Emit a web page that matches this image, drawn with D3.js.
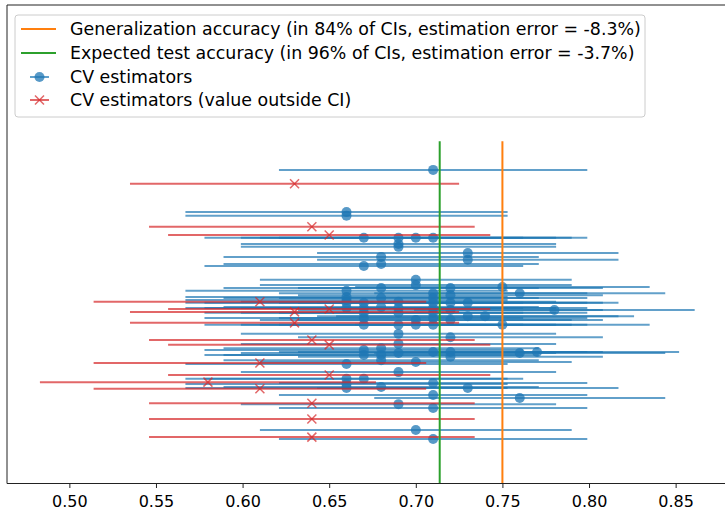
<!DOCTYPE html>
<html>
<head>
<meta charset="utf-8">
<script src="https://cdn.jsdelivr.net/npm/d3@7"></script>
<style>
  body { margin: 0; background: #fff; }
  text { font-family: "DejaVu Sans", sans-serif; }
</style>
</head>
<body>
<svg id="chart" width="725" height="510"></svg>
<script>
// CV estimates (accuracy) and their vertical row position (arbitrary units, 0..100)
const estimates = [
  0.71, 0.66, 0.66, 0.67, 0.69, 0.70, 0.71, 0.69, 0.69, 0.73,
  0.73, 0.68, 0.68, 0.67, 0.70, 0.70, 0.68, 0.66, 0.66, 0.66,
  0.75, 0.76, 0.72, 0.72, 0.71, 0.71, 0.71, 0.71, 0.67, 0.67,
  0.67, 0.67, 0.69, 0.69, 0.69, 0.68, 0.73, 0.72, 0.72, 0.73,
  0.74, 0.78, 0.70, 0.75, 0.69, 0.72, 0.69, 0.67, 0.68, 0.68,
  0.68, 0.69, 0.71, 0.72, 0.72, 0.76, 0.77, 0.66, 0.70, 0.69,
  0.66, 0.66, 0.67, 0.68, 0.71, 0.71, 0.73, 0.76, 0.69, 0.71,
  0.70, 0.71, 0.66, 0.71, 0.71, 0.72, 0.68, 0.67, 0.70, 0.69,
  0.66, 0.71, 0.67, 0.66,
  0.63, 0.64, 0.65, 0.61, 0.63, 0.65, 0.63, 0.64, 0.65, 0.61,
  0.65, 0.58, 0.61, 0.64, 0.64, 0.64
]
const rowPos = [
  65.5, 56.7, 55.9, 51.3, 51.3, 51.3, 51.3, 50.0, 49.4, 48.1,
  46.7, 47.3, 45.8, 45.4, 42.5, 41.4, 40.8, 40.2, 38.9, 36.6,
  41.0, 39.7, 40.8, 39.3, 39.7, 37.7, 35.6, 33.1, 37.7, 36.6,
  34.5, 33.1, 37.9, 36.6, 33.1, 36.8, 37.7, 36.2, 34.1, 34.9,
  34.9, 36.2, 33.1, 33.1, 31.2, 30.5, 29.1, 27.8, 28.2, 26.8,
  25.7, 27.2, 27.4, 27.4, 26.4, 27.2, 27.4, 24.9, 25.3, 23.2,
  21.8, 19.9, 21.8, 20.1, 20.9, 18.4, 19.9, 17.8, 16.5, 15.7,
  11.1, 9.2, 38.3, 38.7, 36.6, 37.7, 38.7, 35.6, 34.1, 35.6,
  37.7, 34.5, 26.8, 20.7,
  62.6, 53.6, 51.9, 37.9, 35.8, 36.4, 33.5, 29.9, 28.9, 25.1,
  22.6, 21.1, 19.7, 16.7, 13.4, 9.6
]

// confidence interval bounds read per estimate value
const ciLevels = [0.58, 0.61, 0.63, 0.64, 0.65, 0.66, 0.67, 0.68, 0.69, 0.70, 0.71, 0.72, 0.73, 0.74, 0.75, 0.76, 0.77, 0.78]
const ciLow    = [0.483, 0.514, 0.535, 0.546, 0.557, 0.567, 0.578, 0.589, 0.599, 0.610, 0.621, 0.632, 0.643, 0.654, 0.665, 0.676, 0.688, 0.699]
const ciHigh   = [0.677, 0.706, 0.725, 0.734, 0.743, 0.753, 0.762, 0.771, 0.781, 0.790, 0.799, 0.808, 0.817, 0.826, 0.835, 0.844, 0.852, 0.861]

const generalization_acc = 0.75
const expected_test_acc = 0.7138
const refLineTop = 71.5

const xTicks = [0.50, 0.55, 0.60, 0.65, 0.70, 0.75, 0.80, 0.85]
const legendLabels = [
  "Generalization accuracy (in 84% of CIs, estimation error = -8.3%)",
  "Expected test accuracy (in 96% of CIs, estimation error = -3.7%)",
  "CV estimators",
  "CV estimators (value outside CI)"
]

const blue = "#1f77b4"
const red = "#d62728"
const orange = "#ff7f0e"
const green = "#2ca02c"

const svg = d3.select("#chart")
const plotLeft = 7, plotTop = 5, plotBottom = 483.5, plotRight = 725

const x = d3.scaleLinear().domain([0.464, 0.8785]).range([plotLeft, plotRight])
const y = d3.scaleLinear().domain([0, 100]).range([483, plotTop])

const points = estimates.map((e, i) => {
  const k = ciLevels.indexOf(e)
  const lo = ciLow[k], hi = ciHigh[k]
  return {est: e, row: rowPos[i], lo: lo, hi: hi, outside: hi < generalization_acc || lo > generalization_acc}
})
const inside = points.filter(d => !d.outside)
const outside = points.filter(d => d.outside)

// error bars + markers, blue first then red
const gIn = svg.append("g")
gIn.selectAll("line")
  .data(inside)
  .join("line")
  .attr("x1", d => x(d.lo))
  .attr("x2", d => x(d.hi))
  .attr("y1", d => y(d.row))
  .attr("y2", d => y(d.row))
  .attr("stroke", blue)
  .attr("stroke-width", 2)
  .attr("stroke-opacity", 0.7)
gIn.selectAll("circle")
  .data(inside)
  .join("circle")
  .attr("cx", d => x(d.est))
  .attr("cy", d => y(d.row))
  .attr("r", 5)
  .attr("fill", blue)
  .attr("fill-opacity", 0.75)

const gOut = svg.append("g")
gOut.selectAll("line")
  .data(outside)
  .join("line")
  .attr("x1", d => x(d.lo))
  .attr("x2", d => x(d.hi))
  .attr("y1", d => y(d.row))
  .attr("y2", d => y(d.row))
  .attr("stroke", red)
  .attr("stroke-width", 2)
  .attr("stroke-opacity", 0.7)
const xs = 4.5
gOut.selectAll("path")
  .data(outside)
  .join("path")
  .attr("d", d => {
    const cx = x(d.est), cy = y(d.row)
    return `M${cx - xs},${cy - xs}L${cx + xs},${cy + xs}M${cx - xs},${cy + xs}L${cx + xs},${cy - xs}`
  })
  .attr("stroke", red)
  .attr("stroke-width", 1.5)
  .attr("stroke-opacity", 0.7)
  .attr("fill", "none")

// reference lines
svg.append("line")
  .attr("x1", x(expected_test_acc)).attr("x2", x(expected_test_acc))
  .attr("y1", y(refLineTop)).attr("y2", plotBottom)
  .attr("stroke", green).attr("stroke-width", 2)
svg.append("line")
  .attr("x1", x(generalization_acc)).attr("x2", x(generalization_acc))
  .attr("y1", y(refLineTop)).attr("y2", plotBottom)
  .attr("stroke", orange).attr("stroke-width", 2)

// frame
svg.append("path")
  .attr("d", `M${plotRight + 2},${plotTop}H${plotLeft}V${plotBottom}H${plotRight + 2}`)
  .attr("fill", "none")
  .attr("stroke", "#222")
  .attr("stroke-width", 1)

const xAxis = svg.append("g")
  .attr("transform", `translate(0,${plotBottom})`)
  .call(d3.axisBottom(x).tickValues(xTicks).tickFormat(d3.format(".2f")).tickSize(4.5).tickPadding(7.5))
xAxis.select(".domain").remove()
xAxis.selectAll("line").attr("stroke", "#222")
xAxis.selectAll("text")
  .attr("font-size", "16px")
  .attr("fill", "#000")
  .style("font-family", "DejaVu Sans, sans-serif")

// legend
const lg = svg.append("g")
lg.append("rect")
  .attr("x", 15).attr("y", 15)
  .attr("width", 630).attr("height", 102)
  .attr("rx", 3)
  .attr("fill", "#fff").attr("fill-opacity", 0.8)
  .attr("stroke", "#ccc")
const rowsY = [29, 53, 77, 100]
lg.append("line").attr("x1", 21).attr("x2", 56).attr("y1", rowsY[0]).attr("y2", rowsY[0])
  .attr("stroke", orange).attr("stroke-width", 2)
lg.append("line").attr("x1", 21).attr("x2", 56).attr("y1", rowsY[1]).attr("y2", rowsY[1])
  .attr("stroke", green).attr("stroke-width", 2)
lg.append("line").attr("x1", 30).attr("x2", 49).attr("y1", rowsY[2]).attr("y2", rowsY[2])
  .attr("stroke", blue).attr("stroke-width", 2).attr("stroke-opacity", 0.7)
lg.append("circle").attr("cx", 39.5).attr("cy", rowsY[2]).attr("r", 5)
  .attr("fill", blue).attr("fill-opacity", 0.75)
lg.append("line").attr("x1", 30).attr("x2", 49).attr("y1", rowsY[3]).attr("y2", rowsY[3])
  .attr("stroke", red).attr("stroke-width", 2).attr("stroke-opacity", 0.7)
lg.append("path")
  .attr("d", `M${39.5 - xs},${rowsY[3] - xs}L${39.5 + xs},${rowsY[3] + xs}M${39.5 - xs},${rowsY[3] + xs}L${39.5 + xs},${rowsY[3] - xs}`)
  .attr("stroke", red).attr("stroke-width", 1.5).attr("stroke-opacity", 0.7)
lg.selectAll("text")
  .data(legendLabels)
  .join("text")
  .attr("x", 70)
  .attr("y", (d, i) => rowsY[i])
  .attr("dy", "0.35em")
  .attr("font-size", "17.4px")
  .attr("fill", "#000")
  .text(d => d)
</script>
</body>
</html>
